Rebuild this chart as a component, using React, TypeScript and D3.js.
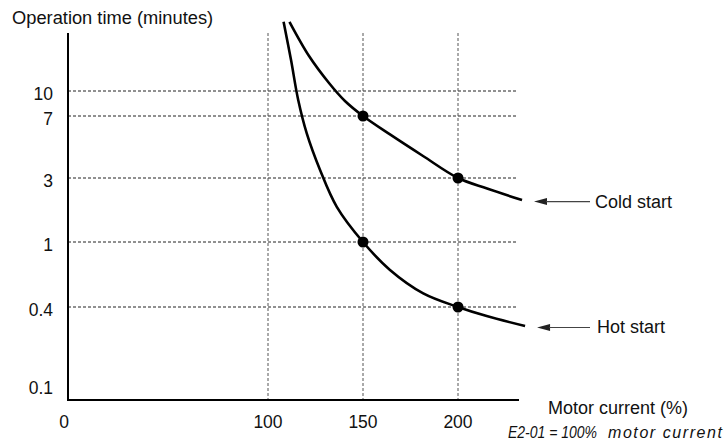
import React from "react";
import * as d3 from "d3";

const yTickValues = [0.1, 0.4, 1, 3, 7, 10];
const yTickLabels = ["0.1", "0.4", "1", "3", "7", "10"];
const yGridValues = [0.4, 1, 3, 7, 10];
const xTickValues = [0, 100, 150, 200];
const xTickLabels = ["0", "100", "150", "200"];
const xGridValues = [100, 150, 200];

// Cold start curve (current %, minutes)
const coldX = [111.3, 121.6, 132.1, 140.5, 150, 164.2, 181.6, 200, 215.3, 233.7];
const coldY = [28.2, 19.2, 12.1, 8.8, 7, 5.81, 4.42, 3, 2.67, 2.31];
// Hot start curve
const hotX = [108.2, 112.1, 115.9, 120.4, 127.4, 136.2, 150, 164.2, 181.7, 200, 215.1, 235.3];
const hotY = [28.2, 18.2, 8.92, 5.88, 3.52, 2.1, 1, 0.742, 0.526, 0.4, 0.365, 0.327];

const markerX = [150, 200, 150, 200];
const markerY = [7, 3, 1, 0.4];

const seriesLabels = ["Cold start", "Hot start"];

export default function App() {
  const W = 726, H = 443;
  const axisLeft = 68, axisBottom = 400, axisTop = 33, axisRight = 519;
  const x = d3.scaleLinear().domain([0, 100, 150, 200, 240]).range([68, 268, 363, 458, 534]);
  const y = d3.scaleLinear().domain([0.1, 0.4, 1, 3, 7, 10, 30]).range([385, 307, 242, 178, 116, 91, 15]);
  const line = d3.line<[number, number]>().x(d => x(d[0])).y(d => y(d[1])).curve(d3.curveCatmullRom.alpha(0.5));
  const cold: [number, number][] = coldX.map((v, i) => [v, coldY[i]]);
  const hot: [number, number][] = hotX.map((v, i) => [v, hotY[i]]);
  const font = "Liberation Sans, Arial, Helvetica, sans-serif";
  const ends = [cold[cold.length - 1], hot[hot.length - 1]];

  return (
    <svg width={W} height={H} style={{ position: "absolute", left: 0, top: 0, background: "#fff" }} fontFamily={font}>
      <text x={12} y={24} fontSize={18.3} fill="#111">Operation time (minutes)</text>
      {yGridValues.map(v => (
        <line key={"hg" + v} x1={axisLeft} x2={518} y1={y(v)} y2={y(v)} stroke="#222" strokeWidth={1} strokeDasharray="3,2" />
      ))}
      {xGridValues.map(v => (
        <line key={"vg" + v} x1={x(v)} x2={x(v)} y1={axisTop} y2={axisBottom} stroke="#555" strokeWidth={1} strokeDasharray="3,2" />
      ))}
      <line x1={axisLeft} x2={axisLeft} y1={axisTop} y2={axisBottom + 1} stroke="#000" strokeWidth={2} />
      <line x1={axisLeft - 1} x2={axisRight} y1={axisBottom} y2={axisBottom} stroke="#000" strokeWidth={2} />
      {yTickValues.map((v, i) => (
        <text key={"yt" + v} x={53} y={y(v) + 3} fontSize={17.5} textAnchor="end" dominantBaseline="central" fill="#111">{yTickLabels[i]}</text>
      ))}
      {xTickValues.map((v, i) => (
        <text key={"xt" + v} x={x(v) - (v === 0 ? 4 : 0)} y={422} fontSize={17.5} textAnchor="middle" dominantBaseline="central" fill="#111">{xTickLabels[i]}</text>
      ))}
      <path d={line(cold) || ""} fill="none" stroke="#000" strokeWidth={2.6} />
      <path d={line(hot) || ""} fill="none" stroke="#000" strokeWidth={2.6} />
      {markerX.map((v, i) => (
        <circle key={"m" + i} cx={x(v)} cy={y(markerY[i])} r={5.5} fill="#000" />
      ))}
      {ends.map((p, i) => {
        const ty = y(p[1]) + 1.5;
        const tip = x(p[0]) + 12;
        return (
          <g key={"arr" + i}>
            <polygon points={`${tip},${ty} ${tip + 13},${ty - 3.5} ${tip + 13},${ty + 3.5}`} fill="#222" />
            <line x1={tip + 12} x2={590} y1={ty} y2={ty} stroke="#444" strokeWidth={1.2} />
            <text x={595 + i * 2} y={ty} fontSize={18} dominantBaseline="central" fill="#111">{seriesLabels[i]}</text>
          </g>
        );
      })}
      <text x={548} y={408} fontSize={18} dominantBaseline="central" fill="#111">Motor current (%)</text>
      <text x={508} y={432} fontSize={16} fontStyle="italic" dominantBaseline="central" fill="#111" textLength={89} lengthAdjust="spacingAndGlyphs">E2-01 = 100%</text>
      <text x={608} y={432} fontSize={16} fontStyle="italic" dominantBaseline="central" fill="#111" textLength={114} lengthAdjust="spacing">motor current</text>
    </svg>
  );
}
